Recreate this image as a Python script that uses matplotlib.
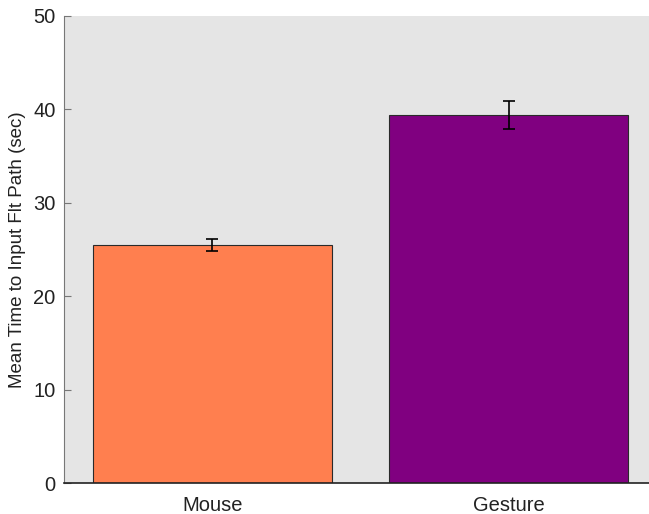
import matplotlib
matplotlib.use("Agg")
import matplotlib.pyplot as plt

# datos
categorias = ["Mouse", "Gesture"]
medias = [25.5, 39.4]
errores = [0.65, 1.55]
colores = ["#ff7f4f", "#800080"]

plt.rcParams['font.family'] = ['Liberation Sans', 'DejaVu Sans']

fig = plt.figure(figsize=(6.49, 5.14), dpi=100)
# el eje se sale un poco por la derecha, como en el original
ax = fig.add_axes([0.0986, 0.0603, 0.9137, 0.9086])
ax.set_facecolor("#e5e5e5")

x = [1, 2]
ax.bar(x, medias, width=0.805, color=colores, edgecolor="#2a2a2a", linewidth=0.8, zorder=2)
ax.errorbar(x, medias, yerr=errores, fmt="none", ecolor="black", elinewidth=1.2,
            capsize=4, capthick=1.2, zorder=3)

ax.set_xlim(0.5, 2.5)
ax.set_ylim(0, 50)
ax.set_yticks([0, 10, 20, 30, 40, 50])
ax.set_xticks(x)
ax.set_xticklabels(categorias)
ax.tick_params(axis="both", labelsize=14.5, colors="#222222")
ax.tick_params(axis="x", length=0, pad=9)
ax.tick_params(axis="y", direction="in", length=5, pad=6, color="#777777")
ax.set_ylabel("Mean Time to Input Flt Path (sec)", fontsize=13.5, color="#222222", labelpad=5)

for lado in ["top", "right"]:
    ax.spines[lado].set_visible(False)
ax.spines["left"].set_color("#777777")
ax.spines["bottom"].set_color("#222222")
ax.spines["bottom"].set_linewidth(1.2)

plt.savefig("out.png", dpi=100)
